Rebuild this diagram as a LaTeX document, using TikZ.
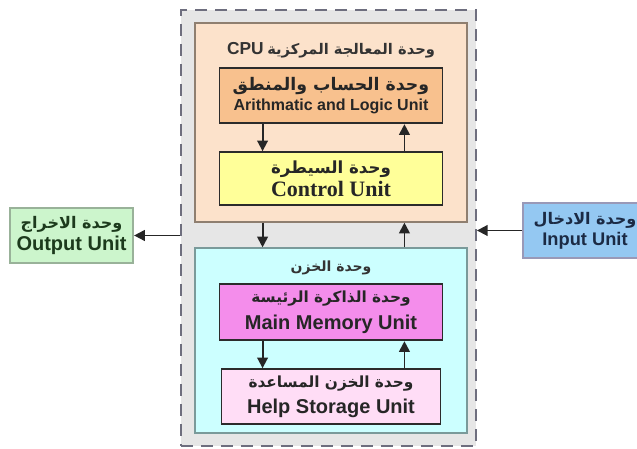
\documentclass[tikz,border=0pt]{standalone}
\usepackage{fontspec}
\setmainfont{Liberation Sans}
\newfontfamily\arabicfont[Script=Arabic]{DejaVu Sans}
\newfontfamily\timesfont{Liberation Serif}
\TeXXeTstate=1
\usetikzlibrary{arrows.meta,positioning}
\usepackage{xcolor}

\definecolor{framefill}{HTML}{E6E6E6}
\definecolor{framedraw}{HTML}{6E6E7E}
\definecolor{cpufill}{HTML}{FCE2CB}
\definecolor{cpudraw}{HTML}{8F7F70}
\definecolor{alufill}{HTML}{F8C18E}
\definecolor{ctrlfill}{HTML}{FFFF99}
\definecolor{storefill}{HTML}{CCFFFF}
\definecolor{storedraw}{HTML}{7A9A9A}
\definecolor{memfill}{HTML}{F48DEB}
\definecolor{helpfill}{HTML}{FFDDF6}
\definecolor{outfill}{HTML}{CCF5CC}
\definecolor{outtext}{HTML}{1C3A1C}
\definecolor{infill}{HTML}{94C8F2}
\definecolor{intext}{HTML}{1B2A44}
\definecolor{boxdraw}{HTML}{2B2B2B}

% arabic font at a given size
\newcommand{\arsize}[1]{\arabicfont\bfseries\fontsize{#1}{#1}\selectfont}

\begin{document}
\begin{tikzpicture}[
    x=0.75pt, y=-0.75pt,
    frame/.style={rectangle, draw=framedraw, line width=1.4pt,
                  dash pattern=on 9pt off 6pt, fill=framefill,
                  minimum width=221.25pt, minimum height=327pt},
    group/.style={rectangle, draw=#1, line width=1pt,
                  minimum width=204pt, inner sep=0pt},
    unit/.style={rectangle, draw=boxdraw, line width=1.4pt,
                 minimum width=167.25pt, minimum height=41.25pt,
                 align=center, inner sep=0pt, text=black!85},
    side/.style={rectangle, draw=#1, line width=1.4pt,
                 minimum width=92.5pt, minimum height=41.25pt,
                 align=center, inner sep=0pt},
    title/.style={font=\bfseries, text=black!80, inner sep=0pt},
    arr/.style={-{Triangle[length=8pt,width=8pt]}, line width=1.4pt, black!85}
]
\useasboundingbox (0,0) rectangle (637,449);

% --- outer frame and the two groups ---
\node[frame] (frame) at (328.5,228) {};
\node[group=cpudraw, fill=cpufill, minimum height=149.25pt] (cpu) at (331,122.5) {};
\node[group=storedraw, fill=storefill, minimum height=138.75pt] (store) at (331,340.5) {};

% --- CPU ---
\node[title] (cputitle) at (331,50)
  {{\fontsize{13}{13}\selectfont CPU} {\arsize{11}\beginR وحدة المعالجة المركزية\endR}};
\node[unit, fill=alufill, font=\bfseries\fontsize{12}{15}\selectfont,
      below=33.75pt of cpu.north] (alu)
  {{\arsize{13}\beginR وحدة الحساب والمنطق\endR}\\Arithmatic and Logic Unit};
\node[unit, fill=ctrlfill, minimum height=39.75pt,
      font=\timesfont\bfseries\fontsize{16.5}{17}\selectfont,
      below=20.25pt of alu] (control)
  {{\arsize{12.5}\beginR وحدة السيطرة\endR}\\Control Unit};

% --- storage ---
\node[title] (storetitle) at (331,268) {\arsize{10.5}\beginR وحدة الخزن\endR};
\node[unit, fill=memfill, minimum height=42pt,
      font=\bfseries\fontsize{15}{20}\selectfont,
      below=27pt of store.north] (mem)
  {{\arsize{11.5}\beginR وحدة الذاكرة الرئيسة\endR}\\Main Memory Unit};
\node[unit, fill=helpfill, minimum width=164.25pt,
      font=\bfseries\fontsize{15}{19}\selectfont,
      below=20.25pt of mem] (help)
  {{\arsize{11.5}\beginR وحدة الخزن المساعدة\endR}\\Help Storage Unit};

% --- input / output ---
\node[side=black!75!green!40, fill=outfill, text=outtext,
      font=\bfseries\fontsize{15}{16}\selectfont] (output) at (71.5,235.5)
  {{\arsize{12}\beginR وحدة الاخراج\endR}\\Output Unit};
\node[side=black!70!blue!40, fill=infill, text=intext,
      font=\bfseries\fontsize{13.7}{16}\selectfont] (input) at (585,230.5)
  {{\arsize{12}\beginR وحدة الادخال\endR}\\Input Unit};

% arrows
\draw[arr] ([xshift=33pt]alu.south west) -- ([xshift=33pt]alu.south west |- control.north);
\draw[arr] ([xshift=-29.25pt]alu.south east |- control.north) -- ([xshift=-29.25pt]alu.south east);
\draw[arr] ([xshift=33pt]alu.south west |- cpu.south) -- ([xshift=33pt]alu.south west |- store.north);
\draw[arr] ([xshift=-29.25pt]alu.south east |- store.north) -- ([xshift=-29.25pt]alu.south east |- cpu.south);
\draw[arr] ([xshift=33pt]mem.south west) -- ([xshift=33pt]mem.south west |- help.north);
\draw[arr] ([xshift=-29.25pt]mem.south east |- help.north) -- ([xshift=-29.25pt]mem.south east);
\draw[arr] (frame.west |- output.east) -- (output.east);
\draw[arr] (input.west) -- (input.west -| frame.east);

\end{tikzpicture}
\end{document}
